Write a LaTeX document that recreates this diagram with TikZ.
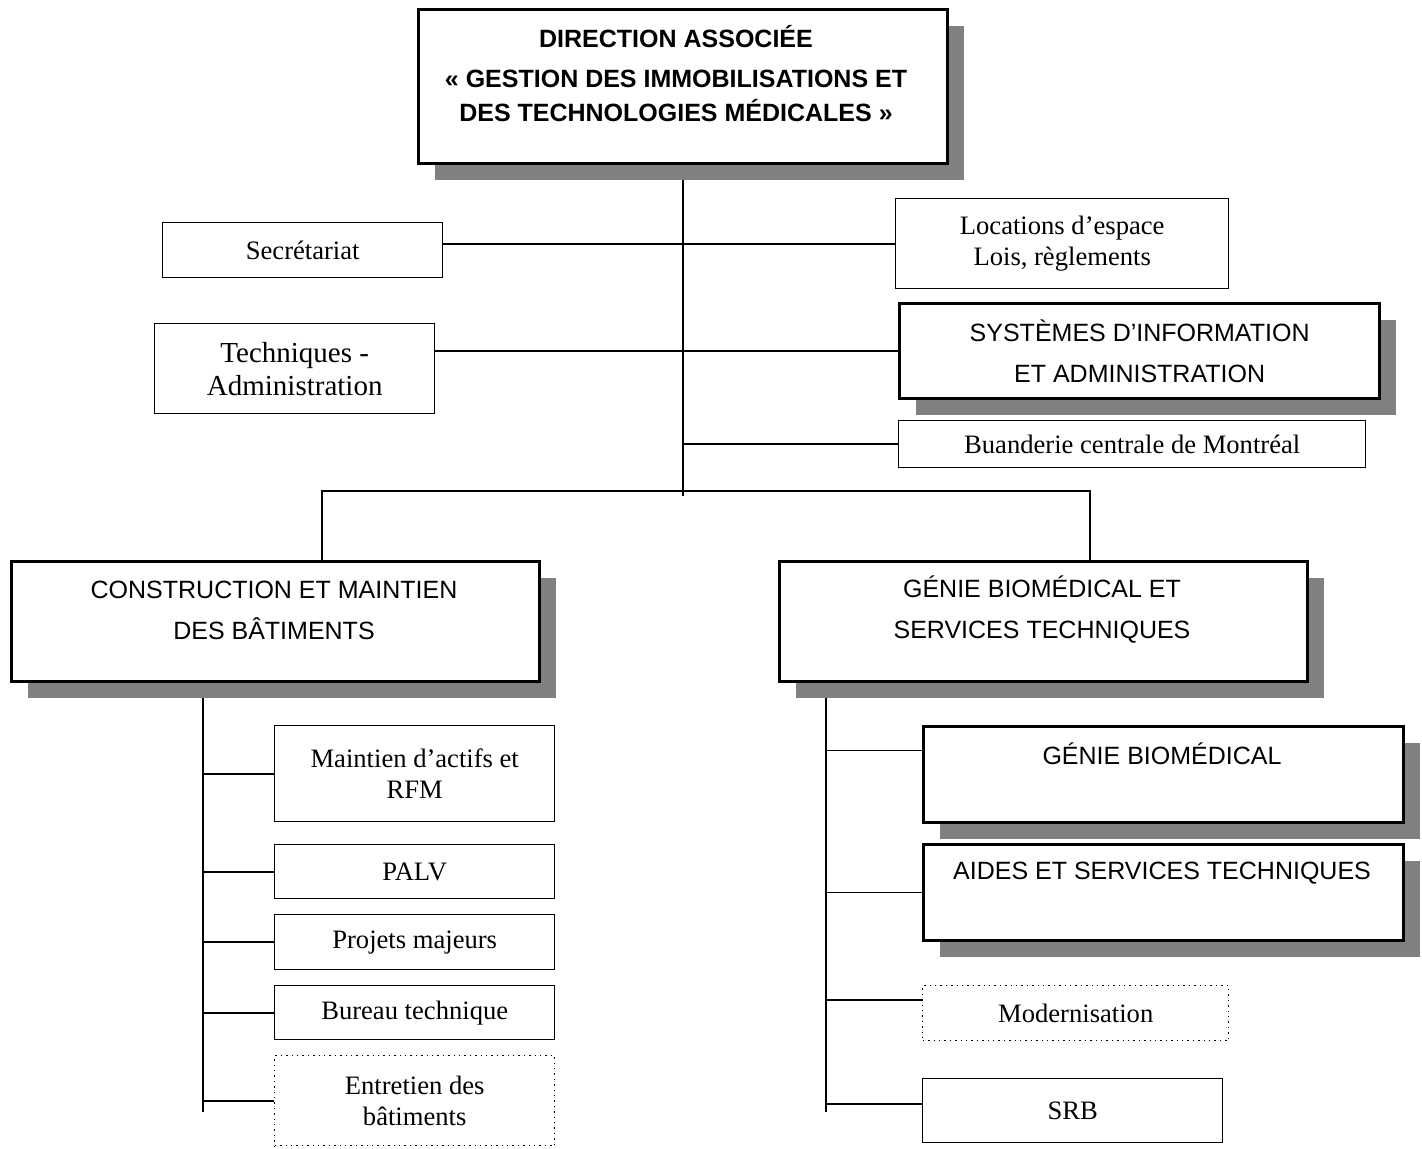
\documentclass[tikz,border=0pt]{standalone}
\usepackage{fontspec}
\setmainfont{Liberation Serif}
\setsansfont{Liberation Sans}
\usetikzlibrary{shadows,backgrounds}

\begin{document}
\begin{tikzpicture}[x=0.5pt,y=-0.5pt,
  box/.style={draw,line width=0.7pt,fill=white,anchor=north west,inner sep=0pt,align=center,
    font=\fontsize{13.3}{15.5}\selectfont},
  bigbox/.style={box,line width=1.6pt,font=\sffamily\fontsize{12.5}{20.5}\selectfont,
    drop shadow={shadow xshift=8pt,shadow yshift=-8pt,fill=gray,opacity=1}},
  dotbox/.style={box,dotted},
  hdtxt/.style={align=center,inner sep=0pt,font=\sffamily\fontsize{12.5}{20.5}\selectfont},
  ln/.style={line width=0.85pt}]
\useasboundingbox (0,0) rectangle (1422,1148);

% top
\node[bigbox,minimum width=264.5pt,minimum height=77pt] (dir) at (417,8) {};
\node[hdtxt,font=\sffamily\bfseries\fontsize{12.5}{17}\selectfont] (dirt) at (676,74)
  {DIRECTION ASSOCIÉE\\[3pt]« GESTION DES IMMOBILISATIONS ET\\DES TECHNOLOGIES MÉDICALES »};

% staff
\node[box,minimum width=140pt,minimum height=27.5pt] (sec) at (162,222) {Secrétariat};
\node[box,minimum width=166.5pt,minimum height=45pt] (loc) at (895,198) {Locations d’espace\\Lois, règlements};
\node[box,minimum width=140pt,minimum height=45pt,font=\fontsize{14.5}{16.5}\selectfont] (tech) at (154,323) {Techniques -\\Administration};
\node[bigbox,minimum width=240pt,minimum height=47.5pt] (sys) at (898,302) {SYSTÈMES D’INFORMATION\\ET ADMINISTRATION};
\node[box,minimum width=233.5pt,minimum height=23.5pt] (bua) at (898,420) {Buanderie centrale de Montréal};

% two directions
\node[bigbox,minimum width=264pt,minimum height=60pt] (con) at (10,560) {};
\node[hdtxt] (cont) at (274,610) {CONSTRUCTION ET MAINTIEN\\DES BÂTIMENTS};
\node[bigbox,minimum width=264pt,minimum height=60pt] (gbst) at (778,560) {};
\node[hdtxt] (gbstt) at (1042,610) {GÉNIE BIOMÉDICAL ET\\SERVICES TECHNIQUES};

% left services
\node[box,minimum width=140pt,minimum height=48pt] (mai) at (274,725) {Maintien d’actifs et\\RFM};
\node[box,minimum width=140pt,minimum height=27pt] (palv) at (274,844) {PALV};
\node[box,minimum width=140pt,minimum height=27.5pt] (proj) at (274,914) {Projets majeurs};
\node[box,minimum width=140pt,minimum height=27pt] (bur) at (274,985) {Bureau technique};
\node[dotbox,minimum width=140pt,minimum height=45pt] (ent) at (274,1055) {Entretien des\\bâtiments};

% right services
\node[bigbox,minimum width=240pt,minimum height=48pt] (gb) at (922,725) {};
\node[hdtxt] (gbt) at (1162,754) {GÉNIE BIOMÉDICAL};
\node[bigbox,minimum width=240pt,minimum height=48pt] (aid) at (922,843) {};
\node[hdtxt] (aidt) at (1162,873) {AIDES ET SERVICES TECHNIQUES};
\node[dotbox,minimum width=153pt,minimum height=27.5pt] (mod) at (922,985) {Modernisation};
\node[box,minimum width=150pt,minimum height=32pt] (srb) at (922,1078) {SRB};

\coordinate (tEnd) at (682,496);
\coordinate (bL) at (322,491);
\coordinate (bR) at (1090,491);
\coordinate (lEnd) at (203,1112);
\coordinate (rEnd) at (826,1112);
\coordinate (gbin) at ([yshift=12pt]gb.west);
\coordinate (modin) at ([yshift=6.5pt]mod.west);
\coordinate (srbin) at ([yshift=3.5pt]srb.west);

\begin{scope}[on background layer]
\draw[ln] (dir.south) -- (dir.south |- tEnd);
\draw[ln] (sec.east |- loc.west) -- (loc.west);
\draw[ln] (tech.east |- sys.west) -- (sys.west);
\draw[ln] (dir.south |- bua.west) -- (bua.west);
\draw[ln] (bL |- con.north) -- (bL) -- (bR) -- (bR |- gbst.north);
\draw[ln] (lEnd |- con.south) -- (lEnd);
\foreach \b in {mai,palv,proj,bur,ent}
  \draw[ln] (lEnd |- \b.west) -- (\b.west);
\draw[ln] (rEnd |- gbst.south) -- (rEnd);
\draw[ln] (rEnd |- gbin) -- (gbin);
\draw[ln] (rEnd |- aid.west) -- (aid.west);
\draw[ln] (rEnd |- modin) -- (modin);
\draw[ln] (rEnd |- srbin) -- (srbin);
\end{scope}
\end{tikzpicture}
\end{document}
